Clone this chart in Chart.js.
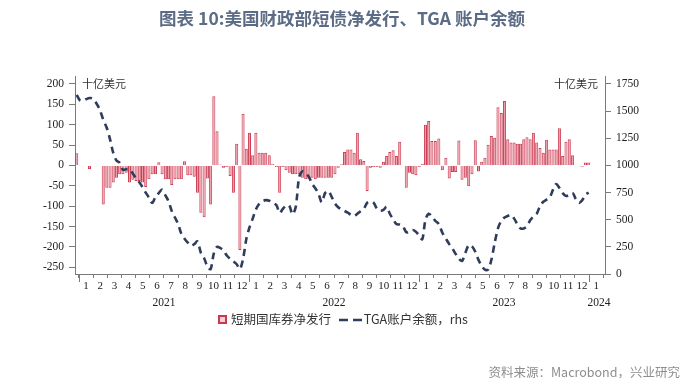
<!DOCTYPE html>
<html>
<head>
<meta charset="utf-8">
<script src="https://cdn.jsdelivr.net/npm/chart.js@4.4.1/dist/chart.umd.min.js"></script>
<style>
  html, body { margin: 0; padding: 0; background: #fff; }
  #wrap { position: relative; width: 700px; height: 387px; overflow: hidden; }
  #myChart { position: absolute; left: 0; top: 0; }
  #title {
    position: absolute; left: 0; top: 5px; width: 684px; text-align: center;
    font: bold 17.5px "Noto Sans CJK SC", sans-serif; color: #5c6c86;
  }
  #legend {
    position: absolute; left: 218px; top: 309px; white-space: nowrap;
    font: 12.5px "Noto Sans CJK SC", sans-serif; color: #333;
  }
  #legend .box {
    display: inline-block; width: 5px; height: 5px; border: 2px solid #c93a50;
    background: #f7d0d6; vertical-align: middle; margin-right: 4px; position: relative; top: -1px;
  }
  #legend svg { vertical-align: middle; margin: 0 1px 0 5px; position: relative; top: -1px; }
  #source {
    position: absolute; right: 20px; top: 362px;
    font: 12.5px "Noto Sans CJK SC", sans-serif; color: #8e8e8e;
  }
</style>
</head>
<body>
<div id="wrap">
  <canvas id="myChart" width="700" height="387"></canvas>
  <div id="title">图表 10:美国财政部短债净发行、TGA 账户余额</div>
  <div id="legend">
    <span class="box"></span>短期国库券净发行
    <svg width="24" height="4"><line x1="0" y1="2" x2="24" y2="2" stroke="#2f3d5b" stroke-width="2.5" stroke-dasharray="9,5"></line></svg>TGA账户余额，rhs
  </div>
  <div id="source">资料来源：Macrobond，兴业研究</div>
</div>
<script>
// 週資料起始日（每 7 天一筆）
var firstWeek = '2020-12-27';

// 短期国库券净发行（十亿美元，左轴）
var billNetIssue = [
  30, -1, -2, 0, -9, 0, -2, 0, -96, -55,
  -55, -42, -30, -22, -22, -18, -42, -35, -38, -38,
  -42, -53, -34, -22, -22, 8, -22, -34, -34, -48,
  -34, -34, -34, 10, -24, -24, -28, -67, -116, -127,
  -32, -96, 170, 84, 2, -6, -4, -26, -67, 53,
  -208, 127, 41, 80, 25, 80, 31, 31, 31, 25,
  4, -4, -67, -4, -12, -18, -22, -22, -22, -30,
  -34, -34, -30, -34, -30, -30, -30, -30, -30, -22,
  -6, 3, 33, 39, 39, 31, 80, 15, 11, -63,
  -6, -4, -4, -6, 9, 23, 33, 37, 23, 58,
  0, -55, -18, -22, -24, -4, 4, 100, 109, 60,
  60, 66, -12, 19, -32, -16, -16, 61, -35, -30,
  -51, -22, 62, -15, 9, 19, 51, 72, 68, 143,
  129, 158, 64, 56, 56, 53, 53, 64, 69, 64,
  80, 56, 43, 31, 63, 39, 39, 39, 91, 23,
  58, 64, 25, 1, -2, -3, 7, 7
];

// TGA 账户余额（十亿美元，右轴）
var tgaBalance = [
  1650, 1600, 1595, 1610, 1621, 1615, 1575, 1515, 1420, 1345,
  1240, 1115, 1045, 1025, 960, 965, 965, 925, 880, 845,
  800, 750, 705, 655, 710, 745, 777, 725, 670, 580,
  520, 460, 370, 325, 290, 260, 275, 300, 195, 145,
  70, 45, 190, 250, 240, 215, 170, 140, 115, 90,
  45, 140, 320, 430, 510, 595, 645, 670, 680, 675,
  654, 635, 562, 600, 630, 630, 550, 620, 890, 945,
  925, 895, 830, 790, 740, 660, 746, 765, 710, 650,
  615, 595, 580, 565, 545, 535, 555, 578, 600, 655,
  668, 655, 600, 583, 590, 620, 555, 505, 460, 455,
  440, 385, 390, 405, 390, 355, 320, 500, 555, 530,
  490, 460, 380, 325, 275, 235, 185, 140, 120, 195,
  265, 255, 205, 130, 75, 40, 40, 130, 285, 420,
  490, 520, 535, 545, 510, 460, 420, 420, 440, 495,
  530, 555, 625, 665, 685, 705, 777, 829, 792, 745,
  718, 728, 746, 690, 655, 680, 730, 750
];

// 刻度
var leftTicks = [-250, -200, -150, -100, -50, 0, 50, 100, 150, 200];
var rightTicks = [0, 250, 500, 750, 1000, 1250, 1500, 1750];
var years = ['2021', '2022', '2023', '2024'];
var unitLabel = '十亿美元';

// 日期 -> 以 2021-01 為 0 的月份數
function toMonth(d) {
  var y = d.getFullYear(), m = d.getMonth();
  var days = new Date(y, m + 1, 0).getDate();
  return (y - 2021) * 12 + m + (d.getDate() - 1) / days;
}

var weekX = [];
var start = new Date(firstWeek + 'T00:00:00');
for (var i = 0; i < billNetIssue.length; i++) {
  var d = new Date(start.getTime());
  d.setDate(d.getDate() + i * 7);
  weekX.push(toMonth(d));
}

var barData = billNetIssue.map(function (v, i) { return { x: weekX[i], y: v }; });
var lineData = tgaBalance.map(function (v, i) { return { x: weekX[i], y: v }; });

var axisColor = '#7a7a7a';
var serif = 'Liberation Serif';

// 年份、大刻度、單位文字
const extras = {
  id: 'extras',
  afterDraw: (chart) => {
    const ctx = chart.ctx;
    const x = chart.scales.x;
    const area = chart.chartArea;
    ctx.save();
    ctx.strokeStyle = axisColor;
    ctx.lineWidth = 1;
    for (var k = 0; k < years.length; k++) {
      var px = Math.round(x.getPixelForValue(k * 12)) + 0.5;
      ctx.beginPath();
      ctx.moveTo(px, area.bottom);
      ctx.lineTo(px, area.bottom + 8);
      ctx.stroke();
    }
    ctx.fillStyle = '#222';
    ctx.font = '11.5px "' + serif + '"';
    ctx.textAlign = 'center';
    ctx.textBaseline = 'middle';
    for (var k = 0; k < years.length; k++) {
      var mid = k < 3 ? k * 12 + 6 : k * 12 + 0.7;
      ctx.fillText(years[k], x.getPixelForValue(mid), 303);
    }
    ctx.font = '11px "Noto Sans CJK SC"';
    ctx.fillStyle = '#333';
    ctx.textAlign = 'left';
    ctx.fillText(unitLabel, area.left + 7, 84);
    ctx.textAlign = 'right';
    ctx.fillText(unitLabel, area.right - 7, 84);
    ctx.restore();
  }
};

var ctx = document.getElementById('myChart');
var myChart = new Chart(ctx, {
  data: {
    datasets: [
      {
        type: 'line',
        label: 'TGA账户余额，rhs',
        data: lineData,
        yAxisID: 'y1',
        borderColor: '#2f3d5b',
        borderWidth: 2.6,
        borderDash: [7, 5],
        pointRadius: 0,
        tension: 0.3,
        order: 0
      },
      {
        type: 'bar',
        label: '短期国库券净发行',
        data: barData,
        yAxisID: 'y',
        backgroundColor: '#eb9ba8',
        borderColor: '#cc3f55',
        borderWidth: 1,
        barPercentage: 0.95,
        categoryPercentage: 1,
        order: 1
      }
    ]
  },
  options: {
    responsive: false,
    animation: false,
    layout: { padding: { top: 76, left: 0, right: 0, bottom: 0 } },
    plugins: {
      legend: { display: false },
      tooltip: { enabled: false }
    },
    scales: {
      x: {
        type: 'linear',
        offset: false,
        min: -0.28,
        max: 37.12,
        afterBuildTicks: (s) => {
          var t = [];
          for (var m = 0; m <= 37; m++) t.push({ value: m });
          s.ticks = t;
        },
        afterFit: (s) => { s.height = 113; },
        grid: { drawOnChartArea: false, offset: false, tickLength: 4, color: axisColor },
        border: { color: axisColor },
        ticks: {
          autoSkip: false,
          maxRotation: 0,
          padding: 2,
          labelOffset: 7.1,
          color: '#222',
          font: { family: serif, size: 11 },
          callback: (v) => (v >= 37 ? '' : String((v % 12) + 1))
        }
      },
      y: {
        position: 'left',
        min: -266.67,
        max: 219.6,
        afterBuildTicks: (s) => { s.ticks = leftTicks.map((v) => ({ value: v })); },
        afterFit: (s) => { s.width = 75; },
        grid: { drawOnChartArea: false, tickLength: 6, color: axisColor },
        border: { color: axisColor },
        ticks: { padding: 5, color: '#222', font: { family: serif, size: 11.5 }, callback: (v) => String(v) }
      },
      y1: {
        position: 'right',
        min: 0,
        max: 1823.5,
        afterBuildTicks: (s) => { s.ticks = rightTicks.map((v) => ({ value: v })); },
        afterFit: (s) => { s.width = 95; },
        grid: { drawOnChartArea: false, tickLength: 6, color: axisColor },
        border: { color: axisColor },
        ticks: { padding: 5, color: '#222', font: { family: serif, size: 11.5 }, callback: (v) => String(v) }
      }
    }
  },
  plugins: [extras]
});
</script>
</body>
</html>
